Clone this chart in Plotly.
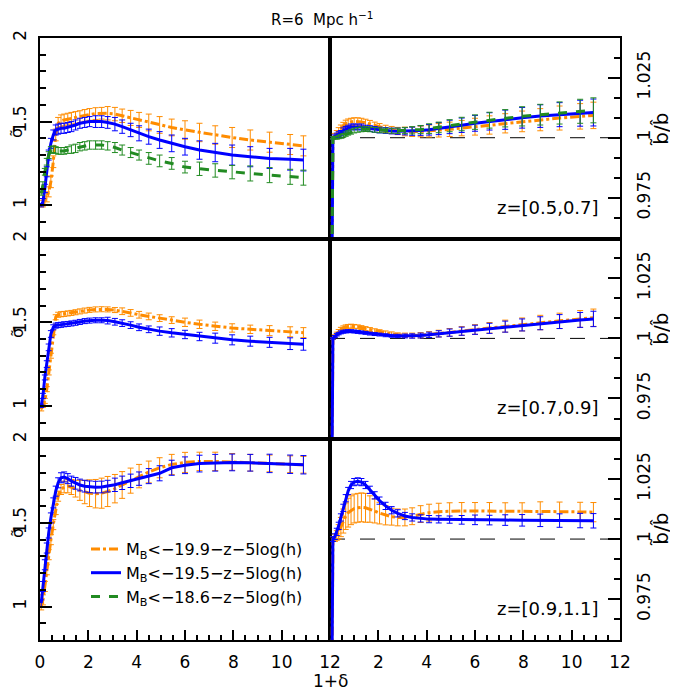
import plotly.graph_objects as go

# ---------------- data ----------------
X = [0.05, 0.12, 0.2, 0.28, 0.36, 0.45, 0.55, 0.65, 0.75, 0.87, 1.0, 1.15, 1.3, 1.47, 1.65, 1.85, 2.05, 2.3, 2.55, 2.8,
     3.1, 3.4, 3.75, 4.1, 4.5, 4.95, 5.45, 6.0, 6.6, 7.25, 7.95, 8.7, 9.5, 10.35, 10.9]

SERIES_NAMES = ["M<sub>B</sub><−19.9−z−5log(h)", "M<sub>B</sub><−19.5−z−5log(h)", "M<sub>B</sub><−18.6−z−5log(h)"]
Z_LABELS = ["z=[0.5,0.7]", "z=[0.7,0.9]", "z=[0.9,1.1]"]
REF_LEVEL = 1.0

# z = [0.5, 0.7]  sigma-tilde (left)
TL_ORANGE = [1.0, 1.01, 1.03, 1.05, 1.08, 1.14, 1.26, 1.42, 1.49, 1.505, 1.51, 1.515, 1.52, 1.525, 1.53, 1.537, 1.543, 1.548, 1.55, 1.55,
             1.545, 1.535, 1.522, 1.51, 1.495, 1.48, 1.465, 1.45, 1.435, 1.42, 1.405, 1.39, 1.377, 1.363, 1.355]
TL_ORANGE_ERR = [0.01, 0.02, 0.025, 0.03, 0.03, 0.035, 0.035, 0.035, 0.035, 0.035, 0.035, 0.035, 0.035, 0.035, 0.035, 0.035, 0.035, 0.035, 0.035, 0.04,
                 0.04, 0.04, 0.045, 0.045, 0.05, 0.05, 0.05, 0.055, 0.055, 0.055, 0.06, 0.06, 0.06, 0.06, 0.06]
TL_BLUE = [1.0, 1.02, 1.1, 1.2, 1.3, 1.37, 1.42, 1.45, 1.455, 1.46, 1.46, 1.465, 1.47, 1.48, 1.49, 1.495, 1.5, 1.5, 1.5, 1.495,
           1.485, 1.47, 1.45, 1.43, 1.41, 1.39, 1.37, 1.35, 1.33, 1.315, 1.3, 1.29, 1.28, 1.275, 1.27]
TL_BLUE_ERR = [0.01, 0.02, 0.025, 0.03, 0.03, 0.03, 0.03, 0.03, 0.03, 0.03, 0.03, 0.03, 0.03, 0.03, 0.03, 0.03, 0.03, 0.035, 0.035, 0.035,
               0.04, 0.04, 0.04, 0.045, 0.045, 0.05, 0.05, 0.05, 0.055, 0.055, 0.06, 0.06, 0.06, 0.065, 0.065]
TL_GREEN = [1.07, 1.12, 1.2, 1.26, 1.3, 1.33, 1.335, 1.33, 1.325, 1.325, 1.325, 1.33, 1.335, 1.34, 1.35, 1.355, 1.36, 1.36, 1.36, 1.355,
            1.345, 1.33, 1.315, 1.3, 1.28, 1.265, 1.25, 1.228, 1.218, 1.208, 1.198, 1.19, 1.18, 1.17, 1.165]
TL_GREEN_ERR = [0.01, 0.02, 0.02, 0.02, 0.02, 0.02, 0.02, 0.02, 0.02, 0.02, 0.02, 0.02, 0.025, 0.025, 0.025, 0.025, 0.025, 0.025, 0.025, 0.025,
                0.03, 0.03, 0.03, 0.03, 0.035, 0.035, 0.035, 0.035, 0.04, 0.04, 0.04, 0.045, 0.045, 0.045, 0.045]

# z = [0.5, 0.7]  b-tilde / b-hat (right)
TR_ORANGE = [0.9, 1.0, 1.001, 1.002, 1.003, 1.004, 1.005, 1.0058, 1.0063, 1.0066, 1.0068, 1.0068, 1.0066, 1.0062, 1.0057, 1.005, 1.0044, 1.0037, 1.0032, 1.0028,
             1.0026, 1.0025, 1.0026, 1.0028, 1.0031, 1.0035, 1.004, 1.0046, 1.0053, 1.006, 1.0068, 1.0075, 1.0082, 1.0089, 1.0093]
TR_ORANGE_ERR = [0.0, 0.0005, 0.0008, 0.001, 0.0012, 0.0013, 0.0014, 0.0015, 0.0015, 0.0015, 0.0015, 0.0015, 0.0015, 0.0015, 0.0015, 0.0015, 0.0015, 0.0015, 0.0015, 0.0015,
                 0.0018, 0.002, 0.0022, 0.0025, 0.0028, 0.003, 0.0032, 0.0035, 0.0038, 0.004, 0.0043, 0.0046, 0.005, 0.0053, 0.0055]
TR_BLUE = [0.9, 1.0, 1.0005, 1.001, 1.0015, 1.002, 1.003, 1.0035, 1.004, 1.0045, 1.0045, 1.0045, 1.0045, 1.004, 1.0038, 1.0035, 1.0032, 1.003, 1.0028, 1.0027,
           1.0027, 1.0027, 1.003, 1.0033, 1.0038, 1.0045, 1.0052, 1.006, 1.0068, 1.0075, 1.0083, 1.009, 1.0096, 1.0102, 1.0105]
TR_BLUE_ERR = [0.0, 0.0005, 0.0007, 0.0009, 0.001, 0.001, 0.0011, 0.0012, 0.0012, 0.0012, 0.0012, 0.0012, 0.0012, 0.0012, 0.0012, 0.0012, 0.0012, 0.0012, 0.0012, 0.0013,
               0.0015, 0.0017, 0.002, 0.0022, 0.0025, 0.0028, 0.003, 0.0033, 0.0036, 0.004, 0.0043, 0.0047, 0.005, 0.0054, 0.0056]
TR_GREEN = [0.9, 1.0, 1.0, 1.0, 1.0003, 1.0006, 1.001, 1.0015, 1.002, 1.0025, 1.003, 1.0033, 1.0035, 1.0036, 1.0035, 1.0033, 1.0031, 1.003, 1.0029, 1.0029,
            1.003, 1.0031, 1.0034, 1.0038, 1.0043, 1.005, 1.0057, 1.0065, 1.0073, 1.0081, 1.0089, 1.0096, 1.0103, 1.011, 1.0114]
TR_GREEN_ERR = [0.0, 0.0004, 0.0005, 0.0006, 0.0007, 0.0008, 0.0008, 0.0009, 0.0009, 0.001, 0.001, 0.001, 0.001, 0.001, 0.001, 0.001, 0.001, 0.001, 0.001, 0.0011,
                0.0013, 0.0015, 0.0017, 0.002, 0.0022, 0.0025, 0.0028, 0.003, 0.0033, 0.0036, 0.004, 0.0043, 0.0046, 0.005, 0.0052]

# z = [0.7, 0.9]  sigma-tilde (left)
ML_ORANGE = [0.98, 1.0, 1.03, 1.1, 1.2, 1.3, 1.44, 1.53, 1.545, 1.548, 1.55, 1.553, 1.556, 1.56, 1.565, 1.57, 1.574, 1.577, 1.578, 1.577,
             1.573, 1.566, 1.556, 1.545, 1.535, 1.525, 1.513, 1.5, 1.488, 1.476, 1.466, 1.458, 1.45, 1.443, 1.438]
ML_ORANGE_ERR = [0.01, 0.01, 0.015, 0.015, 0.015, 0.015, 0.015, 0.015, 0.015, 0.015, 0.015, 0.015, 0.015, 0.015, 0.015, 0.015, 0.015, 0.015, 0.015, 0.015,
                 0.015, 0.02, 0.02, 0.02, 0.02, 0.02, 0.02, 0.025, 0.025, 0.025, 0.025, 0.025, 0.03, 0.03, 0.03]
ML_BLUE = [1.0, 1.06, 1.17, 1.25, 1.35, 1.43, 1.47, 1.48, 1.483, 1.485, 1.488, 1.49, 1.493, 1.497, 1.502, 1.507, 1.51, 1.512, 1.512, 1.51,
           1.503, 1.495, 1.483, 1.47, 1.458, 1.447, 1.437, 1.427, 1.415, 1.405, 1.395, 1.387, 1.38, 1.372, 1.368]
ML_BLUE_ERR = [0.01, 0.015, 0.015, 0.02, 0.02, 0.02, 0.015, 0.015, 0.015, 0.015, 0.015, 0.015, 0.015, 0.015, 0.015, 0.015, 0.015, 0.015, 0.015, 0.02,
               0.02, 0.02, 0.02, 0.02, 0.02, 0.025, 0.025, 0.025, 0.025, 0.03, 0.03, 0.03, 0.03, 0.035, 0.035]

# z = [0.7, 0.9]  b-tilde / b-hat (right)
MR_ORANGE = [0.9, 1.0, 1.001, 1.002, 1.003, 1.0038, 1.0044, 1.0048, 1.005, 1.0051, 1.005, 1.0048, 1.0045, 1.0041, 1.0037, 1.0032, 1.0028, 1.0023, 1.0019, 1.0015,
             1.0013, 1.0012, 1.0013, 1.0016, 1.002, 1.0025, 1.0031, 1.0037, 1.0044, 1.0051, 1.0058, 1.0066, 1.0073, 1.0081, 1.0086]
MR_ORANGE_ERR = [0.0, 0.0004, 0.0005, 0.0006, 0.0007, 0.0008, 0.0008, 0.0008, 0.0008, 0.0008, 0.0008, 0.0008, 0.0008, 0.0008, 0.0008, 0.0008, 0.0008, 0.0008, 0.0008, 0.0008,
                 0.0009, 0.001, 0.0011, 0.0012, 0.0014, 0.0016, 0.0018, 0.002, 0.0022, 0.0025, 0.0027, 0.003, 0.0032, 0.0035, 0.0036]
MR_BLUE = [0.9, 1.0, 1.0008, 1.0015, 1.002, 1.0025, 1.0028, 1.0029, 1.003, 1.003, 1.0029, 1.0027, 1.0025, 1.0023, 1.002, 1.0018, 1.0016, 1.0013, 1.0011, 1.001,
           1.001, 1.001, 1.0012, 1.0015, 1.0019, 1.0024, 1.003, 1.0036, 1.0042, 1.0049, 1.0056, 1.0063, 1.007, 1.0077, 1.0081]
MR_BLUE_ERR = [0.0, 0.0003, 0.0004, 0.0005, 0.0005, 0.0006, 0.0006, 0.0006, 0.0006, 0.0006, 0.0006, 0.0006, 0.0006, 0.0006, 0.0006, 0.0006, 0.0006, 0.0006, 0.0006, 0.0007,
               0.0008, 0.0009, 0.001, 0.0011, 0.0013, 0.0015, 0.0017, 0.0019, 0.0021, 0.0023, 0.0025, 0.0027, 0.0029, 0.0031, 0.0032]

# z = [0.9, 1.1]  sigma-tilde (left)
BL_ORANGE = [1.0, 1.04, 1.12, 1.22, 1.31, 1.4, 1.49, 1.58, 1.66, 1.7, 1.715, 1.72, 1.715, 1.705, 1.695, 1.685, 1.678, 1.675, 1.678, 1.688,
             1.705, 1.727, 1.753, 1.78, 1.805, 1.83, 1.85, 1.862, 1.868, 1.868, 1.865, 1.86, 1.856, 1.851, 1.848]
BL_ORANGE_ERR = [0.02, 0.03, 0.03, 0.03, 0.03, 0.03, 0.03, 0.03, 0.03, 0.03, 0.035, 0.04, 0.045, 0.05, 0.06, 0.07, 0.08, 0.085, 0.09, 0.09,
                 0.085, 0.08, 0.075, 0.07, 0.065, 0.06, 0.06, 0.06, 0.055, 0.055, 0.05, 0.05, 0.05, 0.05, 0.05]
BL_BLUE = [1.02, 1.12, 1.25, 1.35, 1.44, 1.53, 1.62, 1.69, 1.74, 1.77, 1.775, 1.765, 1.75, 1.737, 1.727, 1.72, 1.716, 1.714, 1.715, 1.72,
           1.728, 1.74, 1.752, 1.765, 1.78, 1.797, 1.83, 1.845, 1.855, 1.86, 1.862, 1.86, 1.856, 1.851, 1.848]
BL_BLUE_ERR = [0.02, 0.03, 0.03, 0.03, 0.03, 0.03, 0.03, 0.03, 0.03, 0.03, 0.03, 0.03, 0.03, 0.035, 0.035, 0.035, 0.035, 0.035, 0.035, 0.035,
               0.04, 0.04, 0.04, 0.04, 0.045, 0.045, 0.045, 0.05, 0.05, 0.05, 0.05, 0.05, 0.055, 0.055, 0.055]

# z = [0.9, 1.1]  b-tilde / b-hat (right)
BR_ORANGE = [0.9, 1.0, 1.0005, 1.0015, 1.003, 1.005, 1.0075, 1.0095, 1.011, 1.012, 1.0127, 1.013, 1.0132, 1.013, 1.0125, 1.0117, 1.0108, 1.0099, 1.0093, 1.009,
             1.009, 1.0095, 1.0104, 1.011, 1.0114, 1.0116, 1.0117, 1.0117, 1.0117, 1.0116, 1.0116, 1.0115, 1.0114, 1.0113, 1.0112]
BR_ORANGE_ERR = [0.0, 0.001, 0.0015, 0.002, 0.003, 0.004, 0.005, 0.0055, 0.006, 0.006, 0.006, 0.006, 0.006, 0.006, 0.0055, 0.005, 0.0045, 0.004, 0.0035, 0.0035,
                 0.0035, 0.0035, 0.0035, 0.0035, 0.0035, 0.0035, 0.0035, 0.0035, 0.0035, 0.0035, 0.0035, 0.004, 0.004, 0.004, 0.004]
BR_BLUE = [0.9, 1.0, 1.001, 1.003, 1.0055, 1.009, 1.013, 1.017, 1.02, 1.0225, 1.0237, 1.024, 1.0237, 1.0225, 1.0205, 1.0182, 1.016, 1.0138, 1.012, 1.0107,
           1.0096, 1.009, 1.0086, 1.0083, 1.0082, 1.0081, 1.008, 1.008, 1.0079, 1.0079, 1.0078, 1.0078, 1.0077, 1.0077, 1.0076]
BR_BLUE_ERR = [0.0, 0.001, 0.0012, 0.0015, 0.0015, 0.0015, 0.0015, 0.0015, 0.0015, 0.0015, 0.0015, 0.0015, 0.0015, 0.0015, 0.0015, 0.0015, 0.0015, 0.0015, 0.0015, 0.0015,
               0.0015, 0.0015, 0.0015, 0.0015, 0.0015, 0.0015, 0.0018, 0.002, 0.002, 0.0022, 0.0024, 0.0026, 0.0028, 0.003, 0.003]

# ---------------- style ----------------
ORANGE = "#FF8C00"
BLUE = "#0000FF"
GREEN = "#228B22"
FONT = "DejaVu Sans"

fig = go.Figure()

ROW_DOMAINS = [[2/3, 1.0], [1/3, 2/3], [0.0, 1/3]]
COL_DOMAINS = [[0.0, 0.5], [0.5, 1.0]]

panels = [
    (0, 0, [(TL_ORANGE, TL_ORANGE_ERR, ORANGE, "dashdot", 0), (TL_BLUE, TL_BLUE_ERR, BLUE, "solid", 1), (TL_GREEN, TL_GREEN_ERR, GREEN, "dash", 2)]),
    (0, 1, [(TR_ORANGE, TR_ORANGE_ERR, ORANGE, "dashdot", 0), (TR_BLUE, TR_BLUE_ERR, BLUE, "solid", 1), (TR_GREEN, TR_GREEN_ERR, GREEN, "dash", 2)]),
    (1, 0, [(ML_ORANGE, ML_ORANGE_ERR, ORANGE, "dashdot", 0), (ML_BLUE, ML_BLUE_ERR, BLUE, "solid", 1)]),
    (1, 1, [(MR_ORANGE, MR_ORANGE_ERR, ORANGE, "dashdot", 0), (MR_BLUE, MR_BLUE_ERR, BLUE, "solid", 1)]),
    (2, 0, [(BL_ORANGE, BL_ORANGE_ERR, ORANGE, "dashdot", 0), (BL_BLUE, BL_BLUE_ERR, BLUE, "solid", 1)]),
    (2, 1, [(BR_ORANGE, BR_ORANGE_ERR, ORANGE, "dashdot", 0), (BR_BLUE, BR_BLUE_ERR, BLUE, "solid", 1)]),
]

layout_axes = {}
shapes = []
for i, (row, col, series) in enumerate(panels):
    n = i + 1
    xname = "x" if n == 1 else f"x{n}"
    yname = "y" if n == 1 else f"y{n}"
    for vals, errs, color, dash, si in series:
        fig.add_trace(go.Scatter(
            x=X, y=vals, mode="lines", xaxis=xname, yaxis=yname,
            line=dict(color=color, width=3, dash=dash),
            error_y=dict(type="data", array=errs, visible=True, color=color, thickness=1, width=3),
            name=SERIES_NAMES[si], showlegend=(n == 1), legendrank=si,
        ))
    bottom = (row == 2)
    xa = dict(domain=COL_DOMAINS[col], anchor=yname, range=[0, 12], showgrid=False, zeroline=False,
              showline=True, mirror=True, linecolor="black", linewidth=1.5, automargin=False,
              tickfont=dict(family=FONT, size=17, color="black"))
    if bottom:
        tv = [0, 2, 4, 6, 8, 10, 12] if col == 0 else [2, 4, 6, 8, 10, 12]
        xa.update(tickmode="array", tickvals=tv, ticktext=[str(v) for v in tv], ticks="inside", ticklen=10,
                  tickwidth=2, tickcolor="black", showticklabels=True, ticklabelstandoff=6,
                  minor=dict(tickmode="linear", tick0=0, dtick=0.5, ticks="inside", ticklen=5, tickwidth=2, tickcolor="black"))
    else:
        xa.update(ticks="", showticklabels=False)
    ya = dict(domain=ROW_DOMAINS[row], anchor=xname, showgrid=False, zeroline=False,
              showline=True, mirror=True, linecolor="black", linewidth=1.5, automargin=False,
              tickfont=dict(family=FONT, size=17, color="black"), tickangle=-90,
              ticks="inside", ticklen=12, tickwidth=2, tickcolor="black")
    if col == 0:
        ya.update(range=[0.8, 2.0], tickmode="array", tickvals=[1, 1.5, 2], ticktext=["1", "1.5", "2"], side="left",
                  ticklabelstandoff=5,
                  minor=dict(tickmode="linear", tick0=0, dtick=0.1, ticks="inside", ticklen=6, tickwidth=2, tickcolor="black"))
    else:
        ya.update(range=[0.958, 1.0415], tickmode="array", tickvals=[0.975, 1.0, 1.025], ticktext=["0.975", "1", "1.025"],
                  side="right", ticklabelstandoff=8,
                  minor=dict(tickmode="linear", tick0=1.0, dtick=0.025 / 3, ticks="inside", ticklen=6, tickwidth=2, tickcolor="black"))
        shapes.append(dict(type="line", xref=xname, yref=yname, x0=0, x1=12, y0=REF_LEVEL, y1=REF_LEVEL,
                           line=dict(color="black", width=1, dash="longdash"), layer="below"))
    layout_axes["xaxis" if n == 1 else f"xaxis{n}"] = xa
    layout_axes["yaxis" if n == 1 else f"yaxis{n}"] = ya

# page has an 8px body margin; target plot area in page pixels: x 40..620, y 38..640
OFF = 8
W, H = 678 - OFF, 694 - OFF
L, T = 40 - OFF, 38 - OFF
R = W - (620 - OFF)
B = H - (640 - OFF)
PW, PH = W - L - R, H - T - B


def px(xp):
    return (xp - OFF - L) / PW


def py(yp):
    return (H - B - (yp - OFF)) / PH


annotations = []
annotations.append(dict(text="R=6  Mpc h<sup>−1</sup>", x=px(322), y=py(19), xref="paper", yref="paper",
                        xanchor="center", yanchor="middle",
                        showarrow=False, font=dict(family=FONT, size=15, color="black")))
annotations.append(dict(text="1+δ", x=px(330), y=py(681), xref="paper", yref="paper",
                        xanchor="center", yanchor="middle",
                        showarrow=False, font=dict(family=FONT, size=17, color="black")))
for r, zc in enumerate([208, 408, 608]):
    annotations.append(dict(text=Z_LABELS[r], x=px(601), y=py(zc), xref="paper", yref="paper",
                            xanchor="right", yanchor="middle",
                            showarrow=False, font=dict(family=FONT, size=18, color="black")))
for r, yc in enumerate([133, 333, 533]):
    annotations.append(dict(text="σ̃", x=px(17), y=py(yc), xref="paper", yref="paper", textangle=-90,
                            xanchor="center", yanchor="middle",
                            showarrow=False, font=dict(family=FONT, size=16, color="black")))
    annotations.append(dict(text="b̃/b̂", x=px(661), y=py(yc - 3), xref="paper", yref="paper", textangle=-90,
                            xanchor="center", yanchor="middle",
                            showarrow=False, font=dict(family=FONT, size=20, color="black")))

fig.update_layout(
    width=W, height=H,
    margin=dict(l=L, r=R, t=T, b=B),
    paper_bgcolor="white", plot_bgcolor="white",
    showlegend=True,
    legend=dict(x=px(86), y=py(532), xanchor="left", yanchor="top", bgcolor="rgba(0,0,0,0)",
                font=dict(family=FONT, size=16, color="black"), tracegroupgap=0, itemwidth=30),
    annotations=annotations,
    shapes=shapes,
    **layout_axes,
)

fig.write_html("out.html")
